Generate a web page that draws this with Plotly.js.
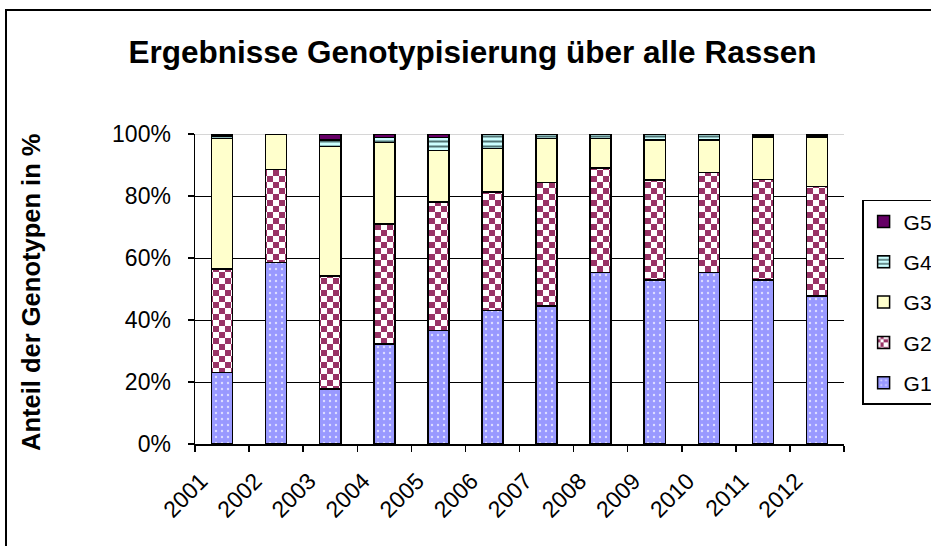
<!DOCTYPE html>
<html>
<head>
<meta charset="utf-8">
<script src="https://cdn.plot.ly/plotly-3.0.1.min.js"></script>
<style>
  html, body { margin: 0; padding: 0; background: #ffffff; overflow: hidden; }
  #chart { position: absolute; left: 0; top: 0; width: 931px; height: 546px; }
  #frame { position: absolute; left: 5px; top: 9px; width: 940px; height: 560px;
           border-left: 2px solid #000; border-top: 2px solid #000; pointer-events: none; }
</style>
</head>
<body>
<div id="chart"></div>
<div id="frame"></div>
<script>
// Data (percent of genotypes per year)
const years = ['2001','2002','2003','2004','2005','2006','2007','2008','2009','2010','2011','2012'];
const g1 = [23.1, 58.5, 17.8, 32.2, 36.6, 43.1, 44.5, 55.4, 52.9, 55.4, 52.9, 47.7];
const g2 = [33.4, 30.0, 36.4, 38.8, 41.4, 38.2, 39.9, 33.6, 32.3, 32.2, 32.4, 35.3];
const g3 = [42.1, 11.5, 41.7, 26.3, 16.7, 14.1, 14.2,  9.6, 12.8, 10.4, 13.8, 16.1];
const g4 = [ 0.7,  0.0,  2.2,  1.6,  4.2,  4.6,  1.4,  1.4,  2.0,  2.0,  0.5,  0.5];
const g5 = [ 0.7,  0.0,  1.9,  1.1,  1.1,  0.0,  0.0,  0.0,  0.0,  0.0,  0.4,  0.4];
const seriesNames = ['G1','G2','G3','G4','G5'];
const yTickVals = [0, 20, 40, 60, 80, 100];
const yTickText = ['0%', '20%', '40%', '60%', '80%', '100%'];

const FONT = 'Liberation Sans, Arial, sans-serif';
const edge = {color: '#000000', width: 1.5};

function bar(name, y, rank, marker) {
  return {type: 'bar', name: name, x: years, y: y, legendgroup: name, legendrank: rank,
          marker: Object.assign({line: edge}, marker), hoverinfo: 'x+y+name'};
}

const traces = [
  bar(seriesNames[0], g1, 5, {color: '#9999FF',
      pattern: {shape: '.', fgcolor: '#DDDDFF', bgcolor: '#9999FF', size: 6, solidity: 0.12}}),
  bar(seriesNames[1], g2, 4, {color: '#993366',
      pattern: {path: 'M0,0H6V6H0ZM6,6H12V12H6Z', fgcolor: '#FFFFFF', bgcolor: '#993366', size: 12, solidity: 1}}),
  bar(seriesNames[2], g3, 3, {color: '#FFFFCC'}),
  bar(seriesNames[3], g4, 2, {color: '#CCFFFF',
      pattern: {shape: '-', fgcolor: '#4F7373', bgcolor: '#CCFFFF', size: 5, solidity: 0.4}}),
  bar(seriesNames[4], g5, 1, {color: '#660066'})
];

const layout = {
  width: 931, height: 546,
  paper_bgcolor: '#FFFFFF', plot_bgcolor: '#FFFFFF',
  margin: {l: 195, r: 87, t: 134, b: 102, autoexpand: false},
  barmode: 'stack', bargap: 0.61,
  font: {family: FONT, color: '#000000', size: 23},
  title: {text: '<b>Ergebnisse Genotypisierung über alle Rassen</b>',
          font: {family: FONT, size: 31.5, color: '#000000'},
          xref: 'container', x: 0.5075, xanchor: 'center',
          yref: 'container', y: 0.905, yanchor: 'middle'},
  xaxis: {type: 'category', tickson: 'boundaries', ticks: 'outside', ticklen: 6,
          tickcolor: '#000000', tickwidth: 1.5, showline: true, linecolor: '#000000', linewidth: 1.5,
          showgrid: false, tickangle: -45, ticklabelstandoff: 13, ticklabelshift: -21,
          tickfont: {family: FONT, size: 23}},
  yaxis: {range: [0, 100], tickmode: 'array', tickvals: yTickVals, ticktext: yTickText,
          ticks: 'outside', ticklen: 6,
          tickcolor: '#000000', tickwidth: 1.5, showline: true, linecolor: '#000000', linewidth: 1.5,
          showgrid: true, gridcolor: '#000000', gridwidth: 1, zeroline: false,
          ticklabelstandoff: 12, tickfont: {family: FONT, size: 23}},
  legend: {xref: 'container', yref: 'container', x: 0.926, xanchor: 'left', y: 0.634, yanchor: 'top',
           traceorder: 'grouped', tracegroupgap: 10,
           bordercolor: '#000000', borderwidth: 1.5, bgcolor: '#FFFFFF',
           font: {family: FONT, size: 21}},
  annotations: [{text: '<b>Anteil der Genotypen in %</b>', textangle: -90,
                 xref: 'paper', yref: 'paper', x: -0.253, y: 0.49, xanchor: 'center', yanchor: 'middle',
                 showarrow: false, font: {family: FONT, size: 25.5, color: '#000000'}}],
  shapes: [{type: 'line', xref: 'paper', yref: 'y', x0: 0, x1: 1, y0: 100, y1: 100,
            line: {color: '#C8C8C8', width: 1.5}, layer: 'between'}]
};

Plotly.newPlot('chart', traces, layout, {displayModeBar: false, staticPlot: true});
</script>
</body>
</html>
